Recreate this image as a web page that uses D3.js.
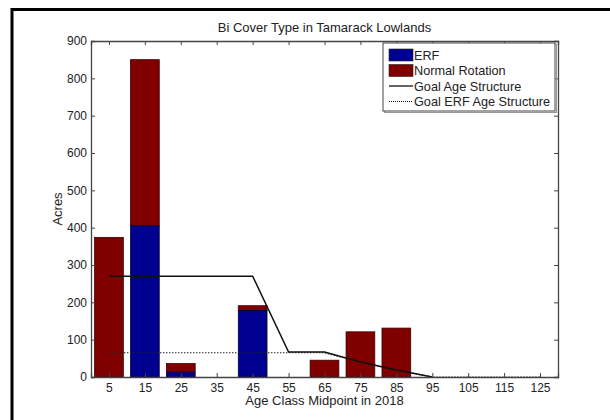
<!DOCTYPE html>
<html>
<head>
<meta charset="utf-8">
<script src="https://cdn.jsdelivr.net/npm/d3@7"></script>
<style>
  body { margin: 0; background: #fff; }
  svg { display: block; font-family: "Liberation Sans", Arial, sans-serif; }
</style>
</head>
<body>
<svg width="610" height="420"></svg>
<script>
// age classes and acreage
const ages = [5, 15, 25, 35, 45, 55, 65, 75, 85, 95, 105, 115, 125];
const erf = [0, 405, 13, 0, 178, 0, 0, 0, 0, 0, 0, 0, 0];
const normal = [374, 445, 23, 0, 13, 0, 45, 121, 131, 0, 0, 0, 0];
const goalAges = [5, 15, 25, 35, 45, 55, 65, 75, 85, 95];
const goal = [270, 270, 270, 270, 270, 67, 67, 40, 19, 0];
const goalErfAges = [5, 15, 25, 35, 45, 55, 65, 75, 85, 95, 105, 115, 125];
const goalErf = [65, 65, 65, 65, 65, 65, 65, 40, 19, 0, 0, 0, 0];
const yTicks = [0, 100, 200, 300, 400, 500, 600, 700, 800, 900];
const legendItems = ["ERF", "Normal Rotation", "Goal Age Structure", "Goal ERF Age Structure"];

const L = 91, R = 558, T = 41, B = 377;
const blue = "#000090", red = "#800000";

function init(){
  var svg = d3.select("svg");
  var x = d3.scaleLinear().domain([0, 130]).range([L, R]);
  var y = d3.scaleLinear().domain([0, 900]).range([B, T]);
  var bw = x(8) - x(0);

  // outer frame
  svg.append("path")
     .attr("d", "M12,420 V9.5 H610")
     .style("fill", "none").style("stroke", "#000").style("stroke-width", 3);

  // bars
  var g = svg.append("g");
  ages.forEach(function(a, i){
    var tot = erf[i] + normal[i];
    if (normal[i] > 0) {
      g.append("rect")
       .attr("x", x(a) - bw/2).attr("y", y(tot))
       .attr("width", bw).attr("height", y(erf[i]) - y(tot))
       .style("fill", red).style("stroke", "#3a0000").style("stroke-width", 0.8);
    }
    if (erf[i] > 0) {
      g.append("rect")
       .attr("x", x(a) - bw/2).attr("y", y(erf[i]))
       .attr("width", bw).attr("height", y(0) - y(erf[i]))
       .style("fill", blue).style("stroke", "#00003a").style("stroke-width", 0.8);
    }
  });

  var line = d3.line().x(function(d){ return x(d[0]); }).y(function(d){ return y(d[1]); });
  svg.append("path")
     .attr("d", line(goalErfAges.map(function(a, i){ return [a, goalErf[i]]; })))
     .style("fill", "none").style("stroke", "#222").style("stroke-width", 1.2)
     .style("stroke-dasharray", "1.5,1.5");
  svg.append("path")
     .attr("d", line(goalAges.map(function(a, i){ return [a, goal[i]]; })))
     .style("fill", "none").style("stroke", "#111").style("stroke-width", 1.5);

  // axes, matlab box style with inward ticks
  var axisCol = "#444";
  var bottom = svg.append("g").attr("transform", "translate(0," + B + ")")
     .call(d3.axisBottom(x).tickValues(ages).tickSize(-4).tickPadding(6));
  var top = svg.append("g").attr("transform", "translate(0," + T + ")")
     .call(d3.axisTop(x).tickValues(ages).tickSize(-4).tickFormat(""));
  var left = svg.append("g").attr("transform", "translate(" + L + ",0)")
     .call(d3.axisLeft(y).tickValues(yTicks).tickSize(-4).tickPadding(4));
  var right = svg.append("g").attr("transform", "translate(" + R + ",0)")
     .call(d3.axisRight(y).tickValues(yTicks).tickSize(-4).tickFormat(""));
  [bottom, top, left, right].forEach(function(a){
    a.select(".domain").style("stroke", axisCol).style("stroke-width", 1.3);
    a.selectAll(".tick line").style("stroke", axisCol);
    a.selectAll("text").style("font-size", "12px").style("fill", "#222")
     .style("font-family", "'Liberation Sans', Arial, sans-serif");
  });

  svg.append("text").attr("x", x(65)).attr("y", 32).attr("text-anchor", "middle")
     .style("font-size", "13px").style("fill", "#222").text("Bi Cover Type in Tamarack Lowlands");
  svg.append("text").attr("x", x(65)).attr("y", 405).attr("text-anchor", "middle")
     .style("font-size", "13px").style("fill", "#222").text("Age Class Midpoint in 2018");
  svg.append("text").attr("transform", "translate(62," + ((T + B)/2) + ") rotate(-90)")
     .attr("text-anchor", "middle")
     .style("font-size", "13px").style("fill", "#222").text("Acres");

  // legend
  var lg = svg.append("g").attr("transform", "translate(383,43)");
  lg.append("rect").attr("x", 1.5).attr("y", 1.5).attr("width", 172).attr("height", 68)
    .style("fill", "none").style("stroke", "#999");
  lg.append("rect").attr("width", 172).attr("height", 68)
    .style("fill", "#fff").style("stroke", "#444");
  legendItems.forEach(function(t, i){
    var cy = 12 + i * 15.5;
    if (i < 2) {
      lg.append("rect").attr("x", 6).attr("y", cy - 6).attr("width", 24).attr("height", 12)
        .style("fill", i == 0 ? blue : red).style("stroke", "#222").style("stroke-width", 0.6);
    } else {
      lg.append("line").attr("x1", 6).attr("x2", 30).attr("y1", cy).attr("y2", cy)
        .style("stroke", "#111").style("stroke-width", i == 2 ? 1.3 : 1)
        .style("stroke-dasharray", i == 2 ? null : "1,1");
    }
    lg.append("text").attr("x", 31).attr("y", cy + 4.5)
      .style("font-size", "12.7px").style("fill", "#222").text(t);
  });
}

window.addEventListener("load", init);
</script>
</body>
</html>
